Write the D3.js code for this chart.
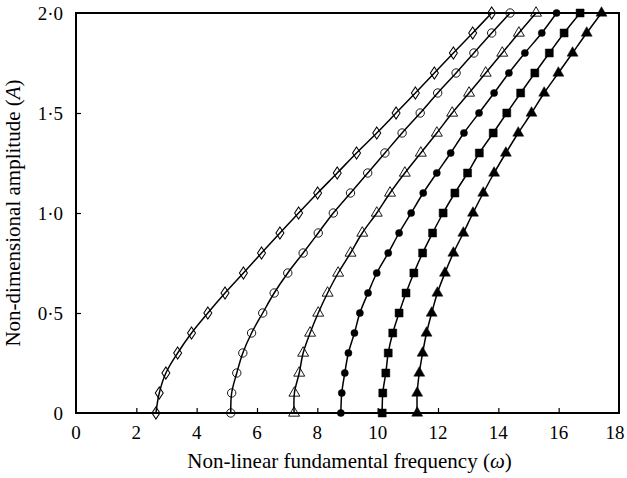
<!DOCTYPE html>
<html lang="en">
<head>
<meta charset="utf-8">
<title>Amplitude vs frequency</title>
<script src="https://cdn.jsdelivr.net/npm/d3@7"></script>
<style>
  body { margin: 0; background: #fff; }
  text { font-family: "Liberation Serif", "Times New Roman", serif; fill: #000; }
  .tick-label { font-size: 19px; }
  .axis-title { font-size: 21px; }
  .curve { fill: none; stroke: #000; stroke-width: 1.5; }
  .frame { fill: none; stroke: #000; stroke-width: 2; }
</style>
</head>
<body>
<script>
// amplitude levels shared by every series
var amplitudes = [0, 0.1, 0.2, 0.3, 0.4, 0.5, 0.6, 0.7, 0.8, 0.9, 1.0,
                  1.1, 1.2, 1.3, 1.4, 1.5, 1.6, 1.7, 1.8, 1.9, 2.0];

// frequency for each amplitude
var freqDiamond  = [2.65, 2.76, 2.98, 3.37, 3.83, 4.37, 4.94, 5.55, 6.15, 6.76, 7.38,
                    8.01, 8.66, 9.30, 9.97, 10.61, 11.25, 11.88, 12.51, 13.15, 13.78];
var freqCircle   = [5.13, 5.16, 5.33, 5.53, 5.82, 6.19, 6.57, 7.02, 7.53, 8.03, 8.53,
                    9.10, 9.67, 10.24, 10.81, 11.41, 11.99, 12.60, 13.19, 13.78, 14.39];
var freqTriangle = [7.23, 7.24, 7.40, 7.53, 7.76, 8.03, 8.34, 8.69, 9.10, 9.49, 9.97,
                    10.41, 10.90, 11.43, 11.96, 12.47, 13.03, 13.58, 14.13, 14.68, 15.25];
var freqDot      = [8.78, 8.81, 8.91, 9.03, 9.23, 9.41, 9.68, 9.97, 10.35, 10.71, 11.11,
                    11.51, 11.96, 12.42, 12.86, 13.36, 13.86, 14.35, 14.88, 15.44, 15.93];
var freqSquare   = [10.15, 10.17, 10.27, 10.35, 10.50, 10.71, 10.94, 11.20, 11.49, 11.82, 12.17,
                    12.56, 12.98, 13.37, 13.83, 14.28, 14.74, 15.21, 15.69, 16.18, 16.71];
var freqTriFill  = [11.31, 11.31, 11.38, 11.49, 11.62, 11.79, 11.98, 12.23, 12.51, 12.84, 13.16,
                    13.50, 13.86, 14.25, 14.66, 15.10, 15.52, 15.99, 16.46, 16.93, 17.42];

var xTicks = [0, 2, 4, 6, 8, 10, 12, 14, 16, 18];
var yTicks = [0, 0.5, 1.0, 1.5, 2.0];
var yTickLabels = ['0', '0·5', '1·0', '1·5', '2·0'];

var series = [
  { freq: freqDiamond,  shape: 'diamond',  filled: false },
  { freq: freqCircle,   shape: 'circle',   filled: false },
  { freq: freqTriangle, shape: 'triangle', filled: false },
  { freq: freqDot,      shape: 'dot',      filled: true },
  { freq: freqSquare,   shape: 'square',   filled: true },
  { freq: freqTriFill,  shape: 'triangle', filled: true }
];

var width = 627, height = 478;
var margin = { left: 76, right: 8, top: 13, bottom: 65 };

var svg = d3.select('body').append('svg')
  .attr('width', width)
  .attr('height', height);

var x = d3.scaleLinear().domain([0, 18]).range([margin.left, width - margin.right]);
var y = d3.scaleLinear().domain([0, 2]).range([height - margin.bottom, margin.top]);

// ticks pointing inwards
var xAxis = d3.axisTop(x).tickValues(xTicks.slice(1, -1)).tickSize(5).tickFormat('');
svg.append('g')
  .attr('transform', 'translate(0,' + y(0) + ')')
  .call(xAxis)
  .call(function(g){ g.select('.domain').remove(); g.selectAll('line').attr('stroke-width', 1.2); });

var yAxis = d3.axisRight(y).tickValues(yTicks.slice(1, -1)).tickSize(5).tickFormat('');
svg.append('g')
  .attr('transform', 'translate(' + x(0) + ',0)')
  .call(yAxis)
  .call(function(g){ g.select('.domain').remove(); g.selectAll('line').attr('stroke-width', 1.2); });

// tick labels (last one nudged in so it stays on the page)
svg.selectAll('.xlab')
  .data(xTicks)
  .enter()
  .append('text')
  .attr('class', 'tick-label')
  .attr('x', function(d){ return Math.min(x(d), width - 12); })
  .attr('y', y(0) + 26)
  .attr('text-anchor', 'middle')
  .text(function(d){ return d; });

svg.selectAll('.ylab')
  .data(yTicks)
  .enter()
  .append('text')
  .attr('class', 'tick-label')
  .attr('x', x(0) - 13)
  .attr('y', function(d){ return y(d) + 7; })
  .attr('text-anchor', 'end')
  .text(function(d,i){ return yTickLabels[i]; });

// axis titles
var xt = svg.append('text')
  .attr('class', 'axis-title')
  .attr('x', (x(0) + x(18)) / 2 + 2)
  .attr('y', y(0) + 55)
  .attr('text-anchor', 'middle');
xt.append('tspan').text('Non-linear fundamental frequency (');
xt.append('tspan').style('font-style', 'italic').text('ω');
xt.append('tspan').text(')');

var yt = svg.append('text')
  .attr('class', 'axis-title')
  .attr('transform', 'translate(20,' + y(1) + ') rotate(-90)')
  .attr('text-anchor', 'middle');
yt.append('tspan').text('Non-dimensional amplitude (');
yt.append('tspan').style('font-style', 'italic').text('A');
yt.append('tspan').text(')');

// curves
var line = d3.line()
  .x(function(d){ return x(d[0]); })
  .y(function(d){ return y(d[1]); })
  .curve(d3.curveCatmullRom.alpha(0.5));

var symbols = {
  diamond:  d3.symbol().type(d3.symbolDiamond).size(42),
  circle:   d3.symbol().type(d3.symbolCircle).size(55),
  triangle: d3.symbol().type(d3.symbolTriangle).size(52),
  dot:      d3.symbol().type(d3.symbolCircle).size(40),
  square:   d3.symbol().type(d3.symbolSquare).size(64)
};

series.forEach(function(s){
  var pts = amplitudes.map(function(a, i){ return [s.freq[i], a]; });
  svg.append('path')
    .attr('class', 'curve')
    .attr('d', line(pts));

  svg.selectAll(null)
    .data(pts)
    .enter()
    .append('path')
    .attr('d', symbols[s.shape])
    .attr('transform', function(d){
      var sx = s.shape === 'diamond' ? 'scale(1.15,1)' : '';
      return 'translate(' + x(d[0]) + ',' + y(d[1]) + ')' + sx;
    })
    .attr('fill', s.filled ? '#000' : 'none')
    .attr('stroke', '#000')
    .attr('stroke-width', s.filled ? 0.5 : 0.9);
});

// frame
svg.append('rect')
  .attr('class', 'frame')
  .attr('x', x(0))
  .attr('y', y(2))
  .attr('width', x(18) - x(0))
  .attr('height', y(0) - y(2));
</script>
</body>
</html>
